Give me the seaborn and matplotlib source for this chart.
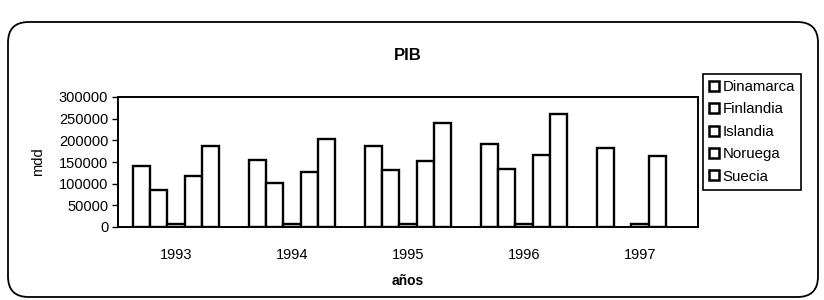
import matplotlib
matplotlib.use("Agg")
import matplotlib.pyplot as plt
import seaborn as sns
import pandas as pd
import numpy as np
from matplotlib.patches import FancyBboxPatch, Patch

years = ["1993", "1994", "1995", "1996", "1997"]
countries = ["Dinamarca", "Finlandia", "Islandia", "Noruega", "Suecia"]
dinamarca = [140000, 154000, 186000, 191000, 182000]
finlandia = [85000, 101000, 132000, 134000, None]
islandia = [6000, 6000, 6000, 6000, 6000]
noruega = [118000, 127000, 153000, 167000, 164000]
suecia = [188000, 202000, 239000, 261000, None]
yticks = [0, 50000, 100000, 150000, 200000, 250000, 300000]

series = [dinamarca, finlandia, islandia, noruega, suecia]
rows = []
for c, vals in zip(countries, series):
    for y, v in zip(years, vals):
        if v is not None:
            rows.append({"año": y, "país": c, "valor": v})
df = pd.DataFrame(rows)

sns.set_theme(style="white")
plt.rcParams["font.family"] = ["Liberation Sans", "DejaVu Sans"]

fig = plt.figure(figsize=(8.24, 3.0), dpi=100)
ax = fig.add_axes([118/824, 1-227/300, (698-118)/824, (227-97)/300])

palette = {c: "white" for c in countries}
sns.barplot(data=df, x="año", y="valor", hue="país", order=years,
            hue_order=countries, palette=palette, width=0.74,
            edgecolor="black", linewidth=1.7, ax=ax, legend=False,
            errorbar=None, saturation=1)

ax.set_ylim(0, 300000)
ax.set_xlim(-0.5, 4.5)
ax.set_yticks(yticks)
ax.set_yticklabels([str(v) for v in yticks], fontsize=10.5, color="black")
ax.set_xticks(range(len(years)))
ax.set_xticklabels(years, fontsize=10.5, color="black")
ax.set_xticks(np.arange(-0.5, 5, 1), minor=True)
ax.tick_params(axis="x", which="major", length=0, pad=15)
ax.tick_params(axis="x", which="minor", length=4, direction="inout", width=1, color="black")
ax.tick_params(axis="y", which="major", length=4, direction="out", width=1, color="black", pad=3, left=True)
for s in ax.spines.values():
    s.set_visible(True)
    s.set_color("black")
    s.set_linewidth(1.4)
ax.set_ylabel("mdd", fontsize=10.5, labelpad=10, color="black")
ax.set_xlabel("años", fontsize=10, fontweight="bold", labelpad=9, color="black")
ax.set_title("PIB", fontsize=12, fontweight="bold", pad=27, color="black")
ax.grid(False)

handles = [Patch(facecolor="white", edgecolor="black", linewidth=1.8, label=c) for c in countries]
leg = fig.legend(handles=handles, loc="upper left", bbox_to_anchor=(703/824, 1-74/300),
                 frameon=True, fontsize=10.8, handlelength=0.65, handleheight=0.65,
                 handletextpad=0.25, labelspacing=0.56, borderpad=0.4,
                 fancybox=False, edgecolor="black", framealpha=1, borderaxespad=0)
leg.get_frame().set_linewidth(1.2)
for t in leg.get_texts():
    t.set_color("black")

frame = FancyBboxPatch((8/824, 3/300), (818-8)/824, (297-22)/300,
                       boxstyle="round,pad=0,rounding_size=0.025",
                       transform=fig.transFigure, facecolor="none",
                       edgecolor="black", linewidth=1.3, mutation_aspect=824/300)
fig.patches.append(frame)

fig.savefig("out.png", dpi=100)
